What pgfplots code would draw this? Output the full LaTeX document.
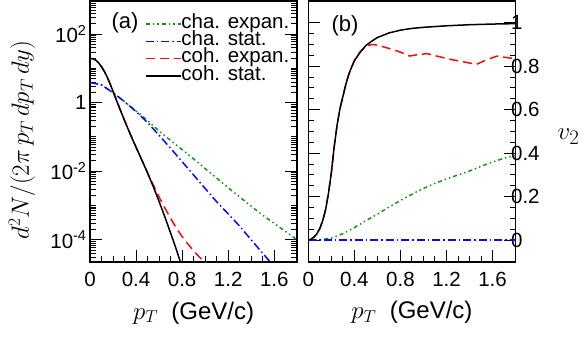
\documentclass[border=0pt]{standalone}
\usepackage{fontspec}
\setmainfont{Liberation Sans}
\usepackage{pgfplots}
\pgfplotsset{compat=1.18}
\definecolor{rgreen}{RGB}{20,150,20}
\definecolor{rblue}{RGB}{10,10,250}
\definecolor{rred}{RGB}{250,10,10}
\begin{document}
\begin{tikzpicture}
\path[use as bounding box] (-90pt,-75pt) rectangle (494pt,262pt);
\pgfplotsset{
  base/.style={
    scale only axis, width=207.3pt, height=261pt,
    clip mode=individual,
    xmin=0, xmax=1.8,
    xtick={0,0.4,0.8,1.2,1.6},
    minor x tick num=3,
    xtick pos=lower,
    ytick pos=both,
    axis line style={line width=1.6pt},
    tick style={black, line width=1pt},
    major tick length=12pt, minor tick length=6pt,
    tick label style={font=\fontsize{20.5}{20.5}\selectfont},
    /pgf/number format/assume math mode=true,
    xticklabel style={yshift=-7pt},
  },
  gstyle/.style={draw=rgreen, line width=1.5pt, dash pattern=on 4pt off 3pt on 1.5pt off 3pt on 1.5pt off 3pt},
  bstyle/.style={draw=rblue, line width=1.5pt, dash pattern=on 8pt off 3pt on 1.5pt off 3pt},
  rstyle/.style={draw=rred, line width=1.5pt, dash pattern=on 9pt off 5pt},
  kstyle/.style={draw=black, line width=1.5pt},
}
\begin{axis}[base, at={(0pt,0pt)}, anchor=south west,
  ymode=log, ymin=2.27e-5, ymax=920,
  ytick={1e-4,1e-2,1,100},
  yticklabels={{10\textsuperscript{-4}},{10\textsuperscript{-2}},{1},{10\textsuperscript{2}}},
  minor ytick={2e-5,3e-5,4e-5,5e-5,6e-5,7e-5,8e-5,9e-5,
    2e-4,3e-4,4e-4,5e-4,6e-4,7e-4,8e-4,9e-4,1e-3,
    2e-3,3e-3,4e-3,5e-3,6e-3,7e-3,8e-3,9e-3,
    2e-2,3e-2,4e-2,5e-2,6e-2,7e-2,8e-2,9e-2,1e-1,
    2e-1,3e-1,4e-1,5e-1,6e-1,7e-1,8e-1,9e-1,
    2,3,4,5,6,7,8,9,10,20,30,40,50,60,70,80,90,
    200,300,400,500,600,700,800,900},
  yticklabel pos=left,
  legend cell align=left,
  legend style={draw=none, fill=none, at={(rel axis cs:0.265,0.945)}, anchor=north west,
    inner sep=0pt, outer sep=0pt, font=\fontsize{20.5}{20.5}\selectfont, row sep=0pt,
    nodes={inner sep=0pt, text height=13pt, text depth=4.3pt}},
  legend image code/.code={\draw[#1] (0pt,0pt) -- (22pt,0pt); \path (0pt,0pt) -- (35pt,0pt);},
]
\addplot[gstyle] coordinates {
(0,3.89) (0.1,3.31) (0.2,1.95) (0.3,1.07) (0.4,0.575) (0.5,0.302) (0.6,0.148) (0.7,0.0794)
(0.8,0.0427) (0.9,0.0229) (1.0,0.0120) (1.1,6.31e-3) (1.2,3.31e-3) (1.3,1.78e-3)
(1.4,9.55e-4) (1.5,5.25e-4) (1.6,3.02e-4) (1.7,1.74e-4) (1.8,1.0e-4)};
\addlegendentry{cha. expan.}
\addplot[bstyle] coordinates {
(0,3.89) (0.1,3.31) (0.2,1.95) (0.3,1.07) (0.4,0.55) (0.5,0.263) (0.6,0.112) (0.7,0.0468)
(0.8,0.0191) (0.9,7.76e-3) (1.0,3.16e-3) (1.1,1.29e-3) (1.2,5.75e-4) (1.3,2.51e-4)
(1.4,1.0e-4) (1.5,4.07e-5) (1.6,1.66e-5)};
\addlegendentry{cha. stat.}
\addplot[rstyle] coordinates {
(0,19.5) (0.025,19.05) (0.05,17.4) (0.075,14.45) (0.1,11.2) (0.125,8.13) (0.15,5.50) (0.175,3.51)
(0.2,2.14) (0.225,1.29) (0.25,0.794) (0.3,0.302) (0.35,0.120) (0.4,0.0501) (0.45,0.0214)
(0.5,8.91e-3) (0.55,3.98e-3) (0.6,1.78e-3) (0.65,8.51e-4) (0.7,4.27e-4) (0.75,2.19e-4)
(0.8,1.26e-4) (0.85,7.59e-5) (0.9,4.79e-5) (0.95,3.16e-5) (1.0,2.19e-5) (1.02,1.9e-5)};
\addlegendentry{coh. expan.}
\addplot[kstyle] coordinates {
(0,19.5) (0.025,19.05) (0.05,17.4) (0.075,14.45) (0.1,11.2) (0.125,8.13) (0.15,5.50) (0.175,3.51)
(0.2,2.14) (0.225,1.29) (0.25,0.794) (0.3,0.302) (0.35,0.120) (0.4,0.0501) (0.45,0.0214)
(0.5,8.91e-3) (0.55,3.55e-3) (0.6,1.32e-3) (0.65,4.68e-4) (0.7,1.585e-4) (0.75,5.25e-5) (0.79,2.0e-5)};
\addlegendentry{coh. stat.}
\node[anchor=base west, font=\fontsize{22}{22}\selectfont] at (rel axis cs:0.087,0.893) {(a)};
\node[rotate=90, anchor=center, font=\fontsize{25}{25}\selectfont] at ([xshift=-68pt]rel axis cs:0,0.467) {$d^2N/(2\pi\, p_T\, dp_T\, dy)$};
\node[anchor=base, font=\fontsize{24}{24}\selectfont] at ([yshift=-57pt]rel axis cs:0.5,0) {$p_T$\ \ (GeV/c)};
\end{axis}
\begin{axis}[base, at={(218.3pt,0pt)}, anchor=south west,
  ymin=-0.1, ymax=1.1,
  ytick={0,0.2,0.4,0.6,0.8,1},
  minor y tick num=3,
  yticklabel pos=right,
  yticklabel style={xshift=-8pt},
]
\addplot[gstyle] coordinates {
(0,0) (0.1,0.002) (0.2,0.01) (0.3,0.03) (0.4,0.058) (0.5,0.09) (0.6,0.12) (0.7,0.152)
(0.8,0.183) (0.9,0.212) (1.0,0.238) (1.1,0.262) (1.2,0.282) (1.3,0.300) (1.4,0.318)
(1.5,0.34) (1.6,0.36) (1.7,0.377) (1.8,0.39)};
\addplot[bstyle] coordinates {
(0,0) (0.6,0) (1.2,0) (1.8,0)};
\addplot[rstyle] coordinates {
(0,0) (0.025,0.005) (0.05,0.015) (0.075,0.03) (0.1,0.054) (0.125,0.09) (0.15,0.14) (0.175,0.215)
(0.2,0.31) (0.225,0.43) (0.25,0.53) (0.275,0.605) (0.3,0.66) (0.325,0.715) (0.35,0.76)
(0.375,0.795) (0.4,0.825) (0.45,0.865) (0.5,0.893) (0.55,0.90) (0.6,0.897) (0.7,0.882) (0.8,0.865)
(0.88,0.847) (0.95,0.853) (1.03,0.858) (1.13,0.845) (1.23,0.832) (1.35,0.82) (1.46,0.809)
(1.55,0.83) (1.64,0.847) (1.72,0.84) (1.8,0.835)};
\addplot[kstyle] coordinates {
(0,0) (0.025,0.005) (0.05,0.015) (0.075,0.03) (0.1,0.054) (0.125,0.09) (0.15,0.14) (0.175,0.215)
(0.2,0.31) (0.225,0.43) (0.25,0.53) (0.275,0.605) (0.3,0.66) (0.325,0.715) (0.35,0.76)
(0.375,0.795) (0.4,0.825) (0.45,0.865) (0.5,0.895) (0.55,0.915) (0.6,0.932) (0.7,0.953) (0.8,0.966)
(0.9,0.974) (1.0,0.979) (1.2,0.986) (1.4,0.991) (1.6,0.994) (1.8,0.996)};
\node[anchor=base west, font=\fontsize{22}{22}\selectfont] at (rel axis cs:0.095,0.885) {(b)};
\node[anchor=center, font=\fontsize{29}{29}\selectfont] at (rel axis cs:1.255,0.48) {$v_2$};
\node[anchor=base, font=\fontsize{24}{24}\selectfont] at ([yshift=-57pt]rel axis cs:0.5,0) {$p_T$\ \ (GeV/c)};
\end{axis}
\end{tikzpicture}
\end{document}
